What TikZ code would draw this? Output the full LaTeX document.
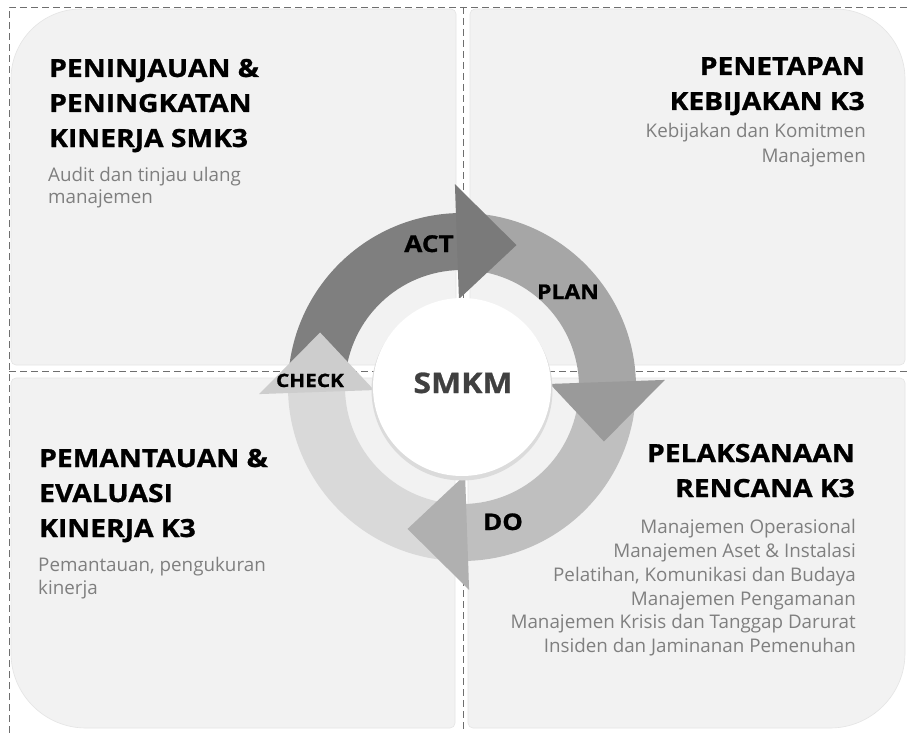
\documentclass[tikz,border=0pt]{standalone}
\usepackage{fontspec}
\setmainfont{Open Sans}
\newfontfamily\boldwide[FakeStretch=1.13, BoldFeatures={FakeBold=1.0}]{Open Sans}
\definecolor{panelbg}{HTML}{F2F2F2}
\definecolor{paneledge}{HTML}{E4E4E4}
\definecolor{dashgray}{HTML}{6E6E6E}
\definecolor{subgray}{HTML}{7F7F7F}
\definecolor{actbody}{HTML}{7F7F7F}
\definecolor{acthead}{HTML}{7A7A7A}
\definecolor{planbody}{HTML}{A6A6A6}
\definecolor{planhead}{HTML}{9A9A9A}
\definecolor{dobody}{HTML}{BFBFBF}
\definecolor{dohead}{HTML}{B0B0B0}
\definecolor{checkbody}{HTML}{D9D9D9}
\definecolor{checkhead}{HTML}{CDCDCD}
\definecolor{centertext}{HTML}{404040}
\newcommand\quadpanel[8]{%
  \fill[panelbg, draw=paneledge, line width=0.6pt]
    (#1,#2+#5) arc[start angle=180,end angle=270,radius=#5]
    -- (#3-#6,#2) arc[start angle=270,end angle=360,radius=#6]
    -- (#3,#4-#7) arc[start angle=0,end angle=90,radius=#7]
    -- (#1+#8,#4) arc[start angle=90,end angle=180,radius=#8] -- cycle;}
\newcommand\cycbody[3]{%
  \fill[#3] (#1:174) arc[start angle=#1, end angle={#2-1}, radius=174]
    -- ({#2-1}:117) arc[start angle={#2-1}, end angle=#1, radius=117] -- cycle;}
\newcommand\cychead[2]{%
  \fill[#2] (#1:203) -- ({#1-23}:152) -- (#1:88) -- cycle;}
\tikzset{
  dashln/.style={draw=dashgray, line width=0.9pt, dash pattern=on 7pt off 4pt},
  ttl/.style={font=\boldwide\bfseries\fontsize{25}{28}\selectfont, inner sep=0pt, text=black},
  subt/.style={font=\fontsize{18.8}{22}\selectfont, inner sep=0pt, text=subgray},
  lbl/.style={inner sep=0pt, text=black, anchor=base},
}
\begin{document}
\begin{tikzpicture}[x=1pt,y=-1pt]
\useasboundingbox (0,0) rectangle (907,733);
\fill[white] (0,0) rectangle (907,733);
% panels
\quadpanel{11}{9}{456}{365}{70}{5}{5}{5}
\quadpanel{470}{9}{905}{365}{5}{70}{5}{5}
\quadpanel{11}{378}{455}{728}{5}{5}{5}{75}
\quadpanel{468}{378}{905}{728}{5}{5}{75}{5}
% dashed guide lines
\coordinate (tlc) at (9,7);
\coordinate (trc) at (907,7);
\coordinate (blc) at (9,733);
\coordinate (vt) at (463,7);
\coordinate (vb) at (463,733);
\coordinate (hl) at (9,371);
\coordinate (hr) at (907,371);
\draw[dashln] (blc) -- (tlc) -- (trc);
\draw[dashln] (vt) -- (vb);
\draw[dashln] (hl) -- (hr);
% cycle
\begin{scope}[shift={(462,387)}, y=1pt]
  \cycbody{176}{92}{actbody}
  \cycbody{86}{2}{planbody}
  \cycbody{-4}{-88}{dobody}
  \cycbody{-94}{-178}{checkbody}
  \cychead{92}{acthead}
  \cychead{2}{planhead}
  \cychead{-88}{dohead}
  \cychead{-178}{checkhead}
  \fill[black!14] (0,-3) circle (90.5);
  \fill[white] (0,0) circle (89);
\end{scope}
\node[lbl, font=\boldwide\bfseries\fontsize{28.3}{32}\selectfont, text=centertext] (smkm) at (463,393) {SMKM};
\node[lbl, font=\boldwide\bfseries\fontsize{23.2}{26}\selectfont] (act) at (429,252) {ACT};
\node[lbl, font=\boldwide\bfseries\fontsize{20.3}{24}\selectfont] (plan) at (568,299) {PLAN};
\node[lbl, font=\boldwide\bfseries\fontsize{22.9}{26}\selectfont] (do) at (503,530) {DO};
\node[lbl, font=\boldwide\bfseries\fontsize{18.4}{22}\selectfont] (check) at (310,387) {CHECK};
% top-left
\node[ttl, anchor=base west] (tla) at (49,77) {PENINJAUAN \&};
\node[ttl, anchor=base west] (tlb) at (49,112) {PENINGKATAN};
\node[ttl, anchor=base west] (tlc2) at (49,147) {KINERJA SMK3};
\node[subt, anchor=base west] (tld) at (48,181.5) {Audit dan tinjau ulang};
\node[subt, anchor=base west] (tle) at (48,203.5) {manajemen};
% top-right
\node[ttl, anchor=base east] (tra) at (865,75) {PENETAPAN};
\node[ttl, anchor=base east] (trb) at (865,110) {KEBIJAKAN K3};
\node[subt, anchor=base east] (trd) at (866,137) {Kebijakan dan Komitmen};
\node[subt, anchor=base east] (tre) at (866,162) {Manajemen};
% bottom-left
\node[ttl, anchor=base west] (bla) at (39,467) {PEMANTAUAN \&};
\node[ttl, anchor=base west] (blb) at (39,502) {EVALUASI};
\node[ttl, anchor=base west] (blc2) at (39,537) {KINERJA K3};
\node[subt, anchor=base west] (bld) at (38,571) {Pemantauan, pengukuran};
\node[subt, anchor=base west] (ble) at (38,594) {kinerja};
% bottom-right
\node[ttl, anchor=base east] (bra) at (855,462) {PELAKSANAAN};
\node[ttl, anchor=base east] (brb) at (855,497) {RENCANA K3};
\node[subt, anchor=base east] (br1) at (856,533) {Manajemen Operasional};
\node[subt, anchor=base east] (br2) at (856,557) {Manajemen Aset \& Instalasi};
\node[subt, anchor=base east] (br3) at (856,581) {Pelatihan, Komunikasi dan Budaya};
\node[subt, anchor=base east] (br4) at (856,605) {Manajemen Pengamanan};
\node[subt, anchor=base east] (br5) at (856,628) {Manajemen Krisis dan Tanggap Darurat};
\node[subt, anchor=base east] (br6) at (856,652) {Insiden dan Jaminanan Pemenuhan};
\end{tikzpicture}
\end{document}
